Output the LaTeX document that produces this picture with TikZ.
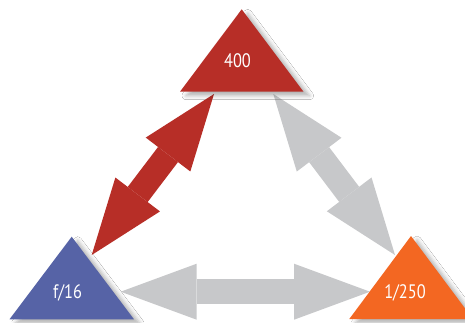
\documentclass[tikz,border=0pt]{standalone}
\usepackage{fontspec}
\setmainfont{PT Sans}
\usetikzlibrary{arrows.meta,shadows.blur}
\definecolor{tred}{RGB}{183,46,39}
\definecolor{tblue}{RGB}{86,99,166}
\definecolor{torange}{RGB}{243,103,34}
\definecolor{tgray}{RGB}{199,200,202}
\tikzset{
  fatarrow/.style={line width=25pt,
    {Triangle[length=76pt,width=56pt,line width=0pt]}-{Triangle[length=76pt,width=56pt,line width=0pt]}},
  tri/.style={blur shadow={shadow xshift=6pt,shadow yshift=-4pt,shadow blur radius=4pt,shadow opacity=30}},
  lbl/.style={text=white,font=\fontsize{19.5}{19.5}\selectfont,inner sep=0pt}
}
\newcommand{\narrow}[1]{\scalebox{0.84}[1]{#1}}
\begin{document}
\begin{tikzpicture}[x=1pt,y=-1pt]
\useasboundingbox[fill=white] (0,0) rectangle (465,322);
% arrow end points
\coordinate (rt) at (214,94);
\coordinate (rb) at (91.7,255);
\coordinate (gt) at (273.3,94);
\coordinate (gb) at (395,255);
\coordinate (hl) at (120.7,291.7);
\coordinate (hr) at (370,291.7);
% connectors
\draw[fatarrow,tred] (rt) -- (rb);
\draw[fatarrow,tgray] (gt) -- (gb);
\draw[fatarrow,tgray] (hl) -- (hr);
% triangles
\path[tri,fill=tred] (241.7,9.3) -- (303.5,91.7) -- (180,91.7) -- cycle;
\path[tri,fill=tblue] (71.7,236.7) -- (134,319.3) -- (9.5,319.3) -- cycle;
\path[tri,fill=torange] (411,236) -- (473,319) -- (349.3,319) -- cycle;
% labels
\node[lbl] (iso) at (237.5,60.7) {\narrow{400}};
\node[lbl] (ap) at (67.5,293) {\narrow{f/16}};
\node[lbl] (sh) at (405,293) {\narrow{1/250}};
\end{tikzpicture}
\end{document}
